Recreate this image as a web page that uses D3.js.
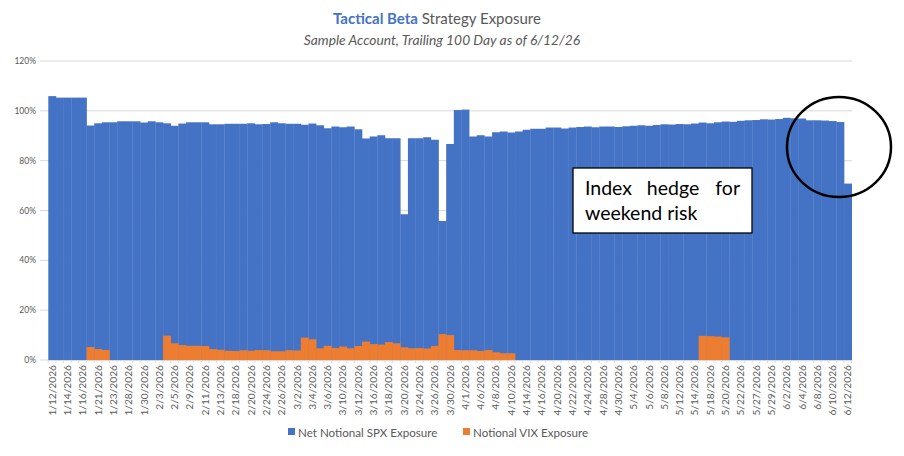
<!DOCTYPE html>
<html lang="en">
<head>
<meta charset="UTF-8">
<title>Tactical Beta Strategy Exposure</title>
<script src="https://cdn.jsdelivr.net/npm/d3@7"></script>
<style>
    body { margin: 0; background: #fff; }
    svg { font-family: Lato, "Liberation Sans", sans-serif; }
</style>
</head>
<body>
<svg id="chart" width="904" height="456"></svg>
<script>
    // trading days, trailing 100 day window
    let dates = [
        "1/12/2026","1/13/2026","1/14/2026","1/15/2026","1/16/2026","1/20/2026","1/21/2026","1/22/2026","1/23/2026","1/26/2026",
        "1/28/2026","1/29/2026","1/30/2026","2/2/2026","2/3/2026","2/4/2026","2/5/2026","2/6/2026","2/9/2026","2/10/2026",
        "2/11/2026","2/12/2026","2/13/2026","2/17/2026","2/18/2026","2/19/2026","2/20/2026","2/23/2026","2/24/2026","2/25/2026",
        "2/26/2026","2/27/2026","3/2/2026","3/3/2026","3/4/2026","3/5/2026","3/6/2026","3/9/2026","3/10/2026","3/11/2026",
        "3/12/2026","3/13/2026","3/16/2026","3/17/2026","3/18/2026","3/19/2026","3/20/2026","3/23/2026","3/24/2026","3/25/2026",
        "3/26/2026","3/27/2026","3/30/2026","3/31/2026","4/1/2026","4/2/2026","4/6/2026","4/7/2026","4/8/2026","4/9/2026",
        "4/10/2026","4/13/2026","4/14/2026","4/15/2026","4/16/2026","4/17/2026","4/20/2026","4/21/2026","4/22/2026","4/23/2026",
        "4/24/2026","4/27/2026","4/28/2026","4/29/2026","4/30/2026","5/1/2026","5/4/2026","5/5/2026","5/6/2026","5/7/2026",
        "5/8/2026","5/11/2026","5/12/2026","5/13/2026","5/14/2026","5/15/2026","5/18/2026","5/19/2026","5/20/2026","5/21/2026",
        "5/22/2026","5/26/2026","5/27/2026","5/28/2026","5/29/2026","6/1/2026","6/2/2026","6/3/2026","6/4/2026","6/5/2026",
        "6/8/2026","6/9/2026","6/10/2026","6/11/2026","6/12/2026"
    ]
    // Net Notional SPX Exposure (%)
    let spx = [
        105.9,105.3,105.3,105.3,105.3, 94.1, 95.0, 95.4, 95.4, 95.8,
         95.8, 95.8, 95.3, 95.8, 95.4, 95.0, 94.0, 94.9, 95.4, 95.4,
         95.4, 94.6, 94.6, 94.8, 94.8, 94.8, 95.0, 94.6, 94.7, 95.4,
         95.0, 94.8, 94.8, 94.4, 94.9, 94.2, 93.0, 93.7, 93.4, 93.7,
         92.6, 88.9, 89.7, 90.2, 89.0, 89.0, 58.5, 89.0, 89.0, 89.4,
         88.4, 55.8, 86.7,100.3,100.5, 89.7, 90.2, 89.7, 91.4, 91.7,
         91.3, 91.7, 92.4, 92.8, 92.8, 93.3, 93.3, 92.9, 93.3, 93.5,
         93.7, 93.4, 93.7, 93.7, 93.5, 93.8, 94.0, 94.2, 94.0, 94.3,
         94.6, 94.5, 94.7, 94.6, 94.9, 95.3, 95.0, 95.4, 95.7, 95.6,
         96.0, 96.2, 96.3, 96.6, 96.5, 96.7, 97.2, 97.0, 96.9, 96.2,
         96.2, 96.1, 95.9, 95.5, 70.8
    ]
    // Notional VIX Exposure (%)
    let vix = [
        0, 0, 0, 0, 0, 5.2, 4.4, 4.0, 0, 0,
        0, 0, 0, 0, 0, 9.8, 6.7, 6.0, 5.7, 5.7,
        5.6, 4.4, 4.1, 3.7, 3.6, 3.9, 3.7, 4.0, 3.9, 3.5,
        3.5, 3.9, 3.8, 9.0, 8.3, 4.7, 5.7, 4.8, 5.4, 4.7,
        5.6, 7.4, 6.4, 6.2, 7.2, 6.7, 5.1, 4.7, 4.8, 4.6,
        5.6, 10.4, 10.0, 4.0, 3.9, 3.9, 3.6, 4.0, 3.1, 2.7,
        2.7, 0, 0, 0, 0, 0, 0, 0, 0, 0,
        0, 0, 0, 0, 0, 0, 0, 0, 0, 0,
        0, 0, 0, 0, 0, 9.7, 9.6, 9.4, 9.1, 0,
        0, 0, 0, 0, 0, 0, 0, 0, 0, 0,
        0, 0, 0, 0, 0
    ]
    let yTicks = [0, 20, 40, 60, 80, 100, 120]
    let seriesNames = ["Net Notional SPX Exposure", "Notional VIX Exposure"]
    let colors = ["#4472C4", "#ED7D31"]

    let svg = d3.select("#chart")
    let x = d3.scaleBand().domain(dates).range([48.3, 851.7]).padding(0)
    let y = d3.scaleLinear().domain([0, 120]).range([360, 61])

    // gridlines + y labels
    svg.append("g").selectAll("line").data(yTicks).join("line")
        .attr("x1", 40).attr("x2", 852)
        .attr("y1", d => y(d)).attr("y2", d => y(d))
        .attr("stroke", "#d9d9d9").attr("stroke-width", 1)
    svg.append("g").selectAll("text").data(yTicks).join("text")
        .attr("x", 36).attr("y", d => y(d) + 3)
        .attr("text-anchor", "end")
        .attr("font-size", 8.5).attr("fill", "#595959")
        .text(d => d + "%")

    // bars
    svg.append("g").selectAll("rect").data(dates).join("rect")
        .attr("x", d => x(d)).attr("width", x.bandwidth() + 0.3)
        .attr("y", (d, i) => y(spx[i]))
        .attr("height", (d, i) => y(0) - y(spx[i]))
        .attr("fill", colors[0])
    svg.append("g").selectAll("rect").data(dates).join("rect")
        .attr("x", d => x(d)).attr("width", x.bandwidth() + 0.3)
        .attr("y", (d, i) => y(vix[i]))
        .attr("height", (d, i) => y(0) - y(vix[i]))
        .attr("fill", colors[1])

    // x axis
    let xAxis = d3.axisBottom(x)
        .tickValues(dates.filter((d, i) => i % 2 === 0))
        .tickSize(0).tickPadding(0)
    let gx = svg.append("g").attr("transform", "translate(0,360)").call(xAxis)
    gx.select(".domain").attr("stroke", "#d9d9d9")
    gx.selectAll("text")
        .attr("font-family", "Lato, sans-serif")
        .attr("font-size", 10.2).attr("fill", "#595959")
        .attr("transform", "rotate(-90)")
        .attr("text-anchor", "end")
        .attr("x", -5).attr("y", 0).attr("dy", "0.35em")
    svg.append("g").selectAll("line").data(dates.concat(["end"])).join("line")
        .attr("x1", (d, i) => 48.3 + i * x.step()).attr("x2", (d, i) => 48.3 + i * x.step())
        .attr("y1", 360).attr("y2", 363)
        .attr("stroke", "#d9d9d9")

    // title
    let title = svg.append("text").attr("x", 437).attr("y", 24)
        .attr("text-anchor", "middle").attr("font-size", 15)
    title.append("tspan").attr("font-weight", "bold").attr("fill", "#4472C4").text("Tactical Beta")
    title.append("tspan").attr("fill", "#595959").text(" Strategy Exposure")
    svg.append("text").attr("x", 442).attr("y", 45)
        .attr("text-anchor", "middle").attr("font-size", 13.8)
        .attr("font-style", "italic").attr("fill", "#595959")
        .text("Sample Account, Trailing 100 Day as of 6/12/26")

    // legend
    let legendX = [288, 463]
    seriesNames.forEach((name, i) => {
        svg.append("rect").attr("x", legendX[i]).attr("y", 428)
            .attr("width", 7).attr("height", 7).attr("fill", colors[i])
        svg.append("text").attr("x", legendX[i] + 10).attr("y", 436.5)
            .attr("font-size", 11.6).attr("fill", "#595959").text(name)
    })

    // annotation box
    svg.append("rect").attr("x", 573).attr("y", 168)
        .attr("width", 179).attr("height", 65)
        .attr("fill", "#fff").attr("stroke", "#000").attr("stroke-width", 1.3)
    let noteFont = 19.5
    svg.append("text").attr("x", 585).attr("y", 195).attr("font-size", noteFont).attr("fill", "#000").text("Index")
    svg.append("text").attr("x", 673).attr("y", 195).attr("font-size", noteFont).attr("fill", "#000")
        .attr("text-anchor", "middle").text("hedge")
    svg.append("text").attr("x", 740).attr("y", 195).attr("font-size", noteFont).attr("fill", "#000")
        .attr("text-anchor", "end").text("for")
    svg.append("text").attr("x", 585).attr("y", 220).attr("font-size", noteFont).attr("fill", "#000").text("weekend risk")

    // circle around the last days
    svg.append("ellipse").attr("cx", 839).attr("cy", 147).attr("rx", 52).attr("ry", 50)
        .attr("fill", "none").attr("stroke", "#000").attr("stroke-width", 2.5)
</script>
</body>
</html>
